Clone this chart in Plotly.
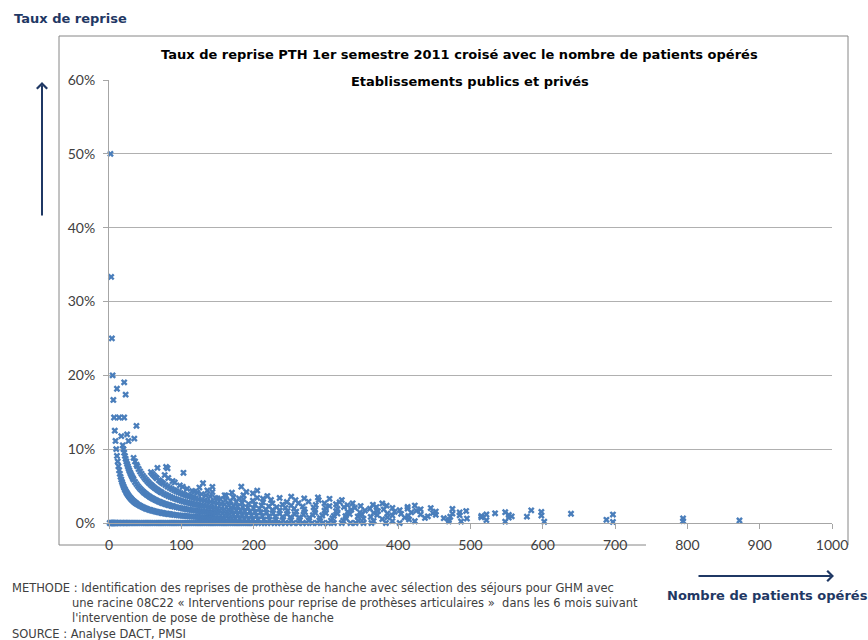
import plotly.graph_objects as go

# ---------------- DATA ----------------
# Number of operated patients per establishment, grouped by number of revisions (reprises)
patients_0_reprise = [1, 2, 3, 4, 5, 6, 7, 8, 9, 10, 12, 14, 16, 18, 20, 22, 24, 26, 28, 30, 33, 36, 39, 42, 45,
                      48, 51, 54, 57, 60, 63, 66, 69, 72, 75, 78, 81, 84, 87, 90, 93, 96, 99, 102, 105, 108, 111,
                      114, 117, 120, 123, 126, 129, 132, 135, 138, 141, 144, 147, 150, 153, 156, 159, 162, 165,
                      168, 171, 174, 177, 180, 183, 186, 189, 192, 195, 198, 202, 206, 211, 215, 219, 224, 229,
                      233, 238, 244, 249, 255, 262, 268, 273, 281, 288, 296, 303, 311, 322, 334, 341, 352, 363,
                      383, 402]
patients_1_reprise = [2, 3, 4, 5, 6, 7, 8, 9, 10, 11, 12, 13, 14, 15, 16, 17, 18, 19, 20, 21, 22, 23, 24, 25, 26,
                      27, 28, 29, 30, 31, 32, 33, 34, 35, 36, 37, 38, 40, 42, 44, 46, 48, 50, 52, 54, 56, 58, 60,
                      62, 64, 66, 68, 70, 72, 74, 76, 78, 80, 82, 84, 86, 88, 90, 93, 96, 99, 102, 105, 108, 111,
                      114, 117, 120, 123, 126, 129, 132, 135, 138, 141, 144, 148, 152, 156, 160, 165, 170, 175,
                      181, 187, 193, 199, 206, 214, 222, 231, 241, 252, 264, 276, 291, 307, 324, 345, 366, 392,
                      423, 470, 487, 548, 602, 697]
patients_2_reprises = [11, 14, 17, 19, 20, 21, 22, 23, 24, 25, 26, 27, 28, 29, 30, 31, 32, 33, 34, 36, 38, 40, 42,
                       44, 46, 48, 50, 52, 54, 56, 58, 60, 62, 64, 66, 68, 70, 72, 74, 76, 78, 80, 82, 84, 86, 88,
                       90, 93, 96, 99, 102, 105, 108, 111, 114, 117, 120, 123, 126, 129, 132, 135, 138, 141, 144,
                       148, 152, 157, 162, 167, 172, 178, 184, 190, 197, 204, 212, 221, 230, 240, 251, 263, 277,
                       292, 309, 328, 352, 378, 415, 470, 522, 794]
patients_3_reprises = [21, 25, 27, 34, 36, 38, 39, 41, 43, 45, 47, 49, 51, 53, 55, 57, 59, 61, 63, 65, 67, 69, 71,
                       73, 76, 79, 82, 85, 88, 91, 94, 97, 100, 103, 106, 109, 112, 115, 118, 121, 124, 127, 130,
                       134, 138, 142, 146, 150, 155, 160, 165, 170, 176, 182, 188, 195, 202, 210, 218, 227, 236,
                       246, 257, 269, 282, 295, 311, 327, 344, 362, 385, 409, 437, 463, 495, 688, 872]
patients_4_reprises = [21, 23, 35, 58, 60, 62, 64, 66, 69, 71, 73, 75, 78, 81, 84, 87, 90, 93, 96, 99, 102, 105,
                       108, 111, 114, 117, 120, 124, 128, 132, 136, 140, 145, 150, 155, 160, 166, 172, 178, 185,
                       192, 200, 208, 217, 226, 236, 247, 259, 271, 285, 300, 316, 333, 350, 371, 392, 414, 441,
                       472, 515, 553]
patients_5_reprises = [38, 67, 77, 82, 88, 91, 98, 102, 108, 115, 118, 122, 128, 134, 140, 147, 150, 154, 161, 168,
                       176, 184, 193, 202, 211, 221, 232, 244, 256, 270, 285, 298, 314, 330, 347, 366, 385, 404,
                       431, 452, 485, 515, 557, 578, 794]
patients_6_reprises = [79, 81, 125, 136, 143, 160, 162, 172, 180, 186, 199, 213, 226, 240, 252, 268, 283, 300, 316,
                       335, 354, 372, 395, 418, 448, 475, 522, 553, 598]
patients_7_reprises = [103, 130, 143, 170, 186, 205, 213, 224, 246, 262, 286, 305, 325, 340, 361, 380, 402, 425,
                       452, 485, 534]
patients_8_reprises = [190, 199, 219, 236, 258, 276, 298, 314, 330, 348, 370, 392, 413, 431, 494, 548, 639, 697]
patients_9_reprises = [183, 205, 252, 270, 290, 319, 337, 365, 384, 413, 445, 475, 598]
patients_10_reprises = [289, 305, 322, 378, 423, 584]

x_tick_values = [0, 100, 200, 300, 400, 500, 600, 700, 800, 900, 1000]
y_tick_values = [0, 0.1, 0.2, 0.3, 0.4, 0.5, 0.6]
y_tick_labels = ["0%", "10%", "20%", "30%", "40%", "50%", "60%"]

groups = [
    (0, patients_0_reprise), (1, patients_1_reprise), (2, patients_2_reprises),
    (3, patients_3_reprises), (4, patients_4_reprises), (5, patients_5_reprises),
    (6, patients_6_reprises), (7, patients_7_reprises), (8, patients_8_reprises),
    (9, patients_9_reprises), (10, patients_10_reprises),
]
xs, ys = [], []
for nb_reprises, patients in groups:
    for n in patients:
        xs.append(n)
        ys.append(nb_reprises / n)

# ---------------- LAYOUT ----------------
W, H = 868, 640
L, R, T, B = 109, 36, 80, 117
PW, PH = W - L - R, H - T - B


def px(xpix):
    return (xpix - L) / PW


def py(ypix):
    return (T + PH - ypix) / PH


BLUE = "#4A7EBB"
DARK = "#1F3864"
GRAY_TXT = "#404040"
TICK_FONT = dict(family="Lato", size=14, color=GRAY_TXT)
TITLE_FONT = dict(family="DejaVu Sans", size=13, color="#000000")
NOTE_FONT = dict(family="DejaVu Sans", size=11.5, color=GRAY_TXT)

fig = go.Figure()
fig.add_trace(go.Scatter(
    x=xs, y=ys, mode="markers", cliponaxis=False, hoverinfo="skip",
    marker=dict(symbol="x", size=6, color=BLUE, line=dict(width=0)),
    showlegend=False,
))

annotations = [
    dict(text="<b>Taux de reprise PTH 1er semestre 2011 croisé avec le nombre de patients opérés</b>",
         x=px(459), y=py(55), xanchor="center", font=TITLE_FONT),
    dict(text="<b>Etablissements publics et privés</b>", x=px(470), y=py(81), xanchor="center",
         width=272, height=16, bgcolor="white", font=TITLE_FONT),
    dict(text="<b>Taux de reprise</b>", x=px(12), y=py(18), xanchor="left",
         font=dict(family="DejaVu Sans", size=13, color=DARK)),
    dict(text="<b>Nombre de patients opérés</b>", x=px(767), y=py(595), xanchor="center",
         font=dict(family="DejaVu Sans", size=13, color=DARK)),
    dict(text="METHODE : Identification des reprises de prothèse de hanche avec sélection des séjours pour GHM avec",
         x=px(10), y=py(588), xanchor="left", font=NOTE_FONT),
    dict(text="une racine 08C22 « Interventions pour reprise de prothèses articulaires »  dans les 6 mois suivant",
         x=px(70), y=py(603), xanchor="left", font=NOTE_FONT),
    dict(text="l'intervention de pose de prothèse de hanche",
         x=px(70), y=py(618), xanchor="left", font=NOTE_FONT),
    dict(text="SOURCE : Analyse DACT, PMSI",
         x=px(10), y=py(634), xanchor="left", font=NOTE_FONT),
    # arrows
    dict(text="", x=px(42), y=py(82), ax=0, ay=135, showarrow=True, arrowhead=4, arrowsize=1,
         arrowwidth=2, arrowcolor=DARK),
    dict(text="", x=px(834), y=py(576), ax=-137, ay=0, showarrow=True, arrowhead=4, arrowsize=1,
         arrowwidth=2, arrowcolor=DARK),
]
for a in annotations:
    a.setdefault("xref", "paper")
    a.setdefault("yref", "paper")
    a.setdefault("showarrow", False)
    a.setdefault("yanchor", "middle")

frame = "#868686"
shapes = [
    dict(type="line", x0=px(59), x1=px(59), y0=py(36), y1=py(545)),
    dict(type="line", x0=px(59), x1=px(848), y0=py(36), y1=py(36)),
    dict(type="line", x0=px(848), x1=px(848), y0=py(36), y1=py(545)),
    dict(type="line", x0=px(59), x1=px(646), y0=py(545), y1=py(545)),
]
for s in shapes:
    s.update(xref="paper", yref="paper", line=dict(color=frame, width=1), layer="below")

fig.update_layout(
    width=W, height=H,
    margin=dict(l=L, r=R, t=T, b=B, pad=0),
    paper_bgcolor="white", plot_bgcolor="white",
    annotations=annotations, shapes=shapes,
    xaxis=dict(range=[0, 1000], tickvals=x_tick_values, showgrid=False, zeroline=False,
               showline=True, linecolor="#A6A6A6", linewidth=1, ticks="outside", ticklen=5,
               tickcolor="#A6A6A6", tickfont=TICK_FONT, ticklabelstandoff=4, fixedrange=True),
    yaxis=dict(range=[0, 0.6], tickvals=y_tick_values, ticktext=y_tick_labels, showgrid=True,
               gridcolor="#B0B0B0", gridwidth=1, zeroline=False, showline=True, linecolor="#A6A6A6",
               linewidth=1, ticks="outside", ticklen=5, tickcolor="#A6A6A6", tickfont=TICK_FONT,
               ticklabelstandoff=5, fixedrange=True),
)

fig.write_html(
    "out.html",
    config={"displayModeBar": False},
    post_script="document.body.style.margin='0';document.body.style.overflow='hidden';",
)
